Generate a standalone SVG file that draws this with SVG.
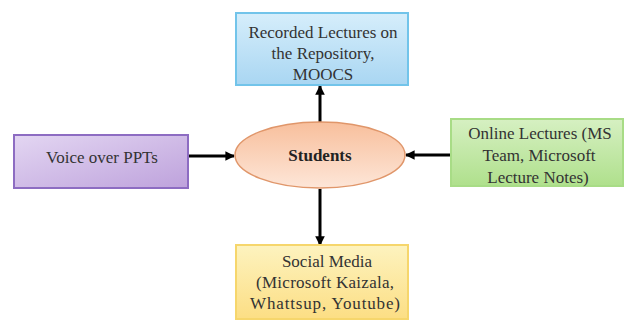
<svg xmlns="http://www.w3.org/2000/svg" width="624" height="320" viewBox="0 0 624 320">
<defs>
<linearGradient id="gBlue" x1="0" y1="0" x2="0" y2="1"><stop offset="0" stop-color="#d6eefb"/><stop offset="1" stop-color="#a9d6f2"/></linearGradient>
<linearGradient id="gPurple" x1="0" y1="0" x2="1" y2="1"><stop offset="0" stop-color="#e3d6f2"/><stop offset="1" stop-color="#bea2dc"/></linearGradient>
<linearGradient id="gPeach" x1="0" y1="0" x2="0" y2="1"><stop offset="0" stop-color="#f8bf9c"/><stop offset="1" stop-color="#fde6d8"/></linearGradient>
<linearGradient id="gGreen" x1="0" y1="0" x2="0" y2="1"><stop offset="0" stop-color="#d6f0c2"/><stop offset="1" stop-color="#afe08c"/></linearGradient>
<linearGradient id="gYellow" x1="0" y1="0" x2="0" y2="1"><stop offset="0" stop-color="#fdf3bf"/><stop offset="1" stop-color="#fcde84"/></linearGradient>
<marker id="arr" viewBox="0 0 10 10" refX="9" refY="5" markerWidth="3.2" markerHeight="3.2" orient="auto"><path d="M0,0 L10,5 L0,10 z" fill="#000"/></marker>
</defs>
<style>
text{font-family:"Liberation Serif","Times New Roman",serif;font-size:17px;fill:#333;text-anchor:middle}
.b{font-weight:bold;fill:#222}
.c{stroke:#000;stroke-width:3;fill:none;marker-end:url(#arr)}
</style>
<rect width="624" height="320" fill="#fff"/>
<g id="connectors">
<line class="c" x1="320" y1="122" x2="320" y2="86"/>
<line class="c" x1="189" y1="156" x2="234" y2="156"/>
<line class="c" x1="450" y1="155" x2="406" y2="155"/>
<line class="c" x1="320" y1="189" x2="320" y2="245"/>
</g>
<g id="recorded">
<rect x="236" y="13" width="172" height="72" fill="url(#gBlue)" stroke="#72c4ea" stroke-width="2"/>
<text x="323" y="38">Recorded Lectures on</text>
<text x="323" y="59">the Repository,</text>
<text x="323" y="80">MOOCS</text>
</g>
<g id="voice">
<rect x="14" y="135" width="174" height="53" fill="url(#gPurple)" stroke="#8d6cc2" stroke-width="2"/>
<text x="102" y="163">Voice over PPTs</text>
</g>
<g id="students">
<ellipse cx="320" cy="155" rx="85" ry="33" fill="url(#gPeach)" stroke="#e0966a" stroke-width="1.5"/>
<text class="b" x="320" y="161">Students</text>
</g>
<g id="online">
<rect x="451" y="119" width="172" height="67" fill="url(#gGreen)" stroke="#a8dc86" stroke-width="2"/>
<text x="540" y="139">Online Lectures (MS</text>
<text x="539" y="161">Team, Microsoft</text>
<text x="538" y="183">Lecture Notes)</text>
</g>
<g id="social">
<rect x="236" y="245" width="172" height="74" fill="url(#gYellow)" stroke="#f6d66c" stroke-width="2"/>
<text x="327" y="267">Social Media</text>
<text x="325" y="288" textLength="138" lengthAdjust="spacing">(Microsoft Kaizala,</text>
<text x="325" y="309" textLength="150" lengthAdjust="spacing">Whattsup, Youtube)</text>
</g>
</svg>
